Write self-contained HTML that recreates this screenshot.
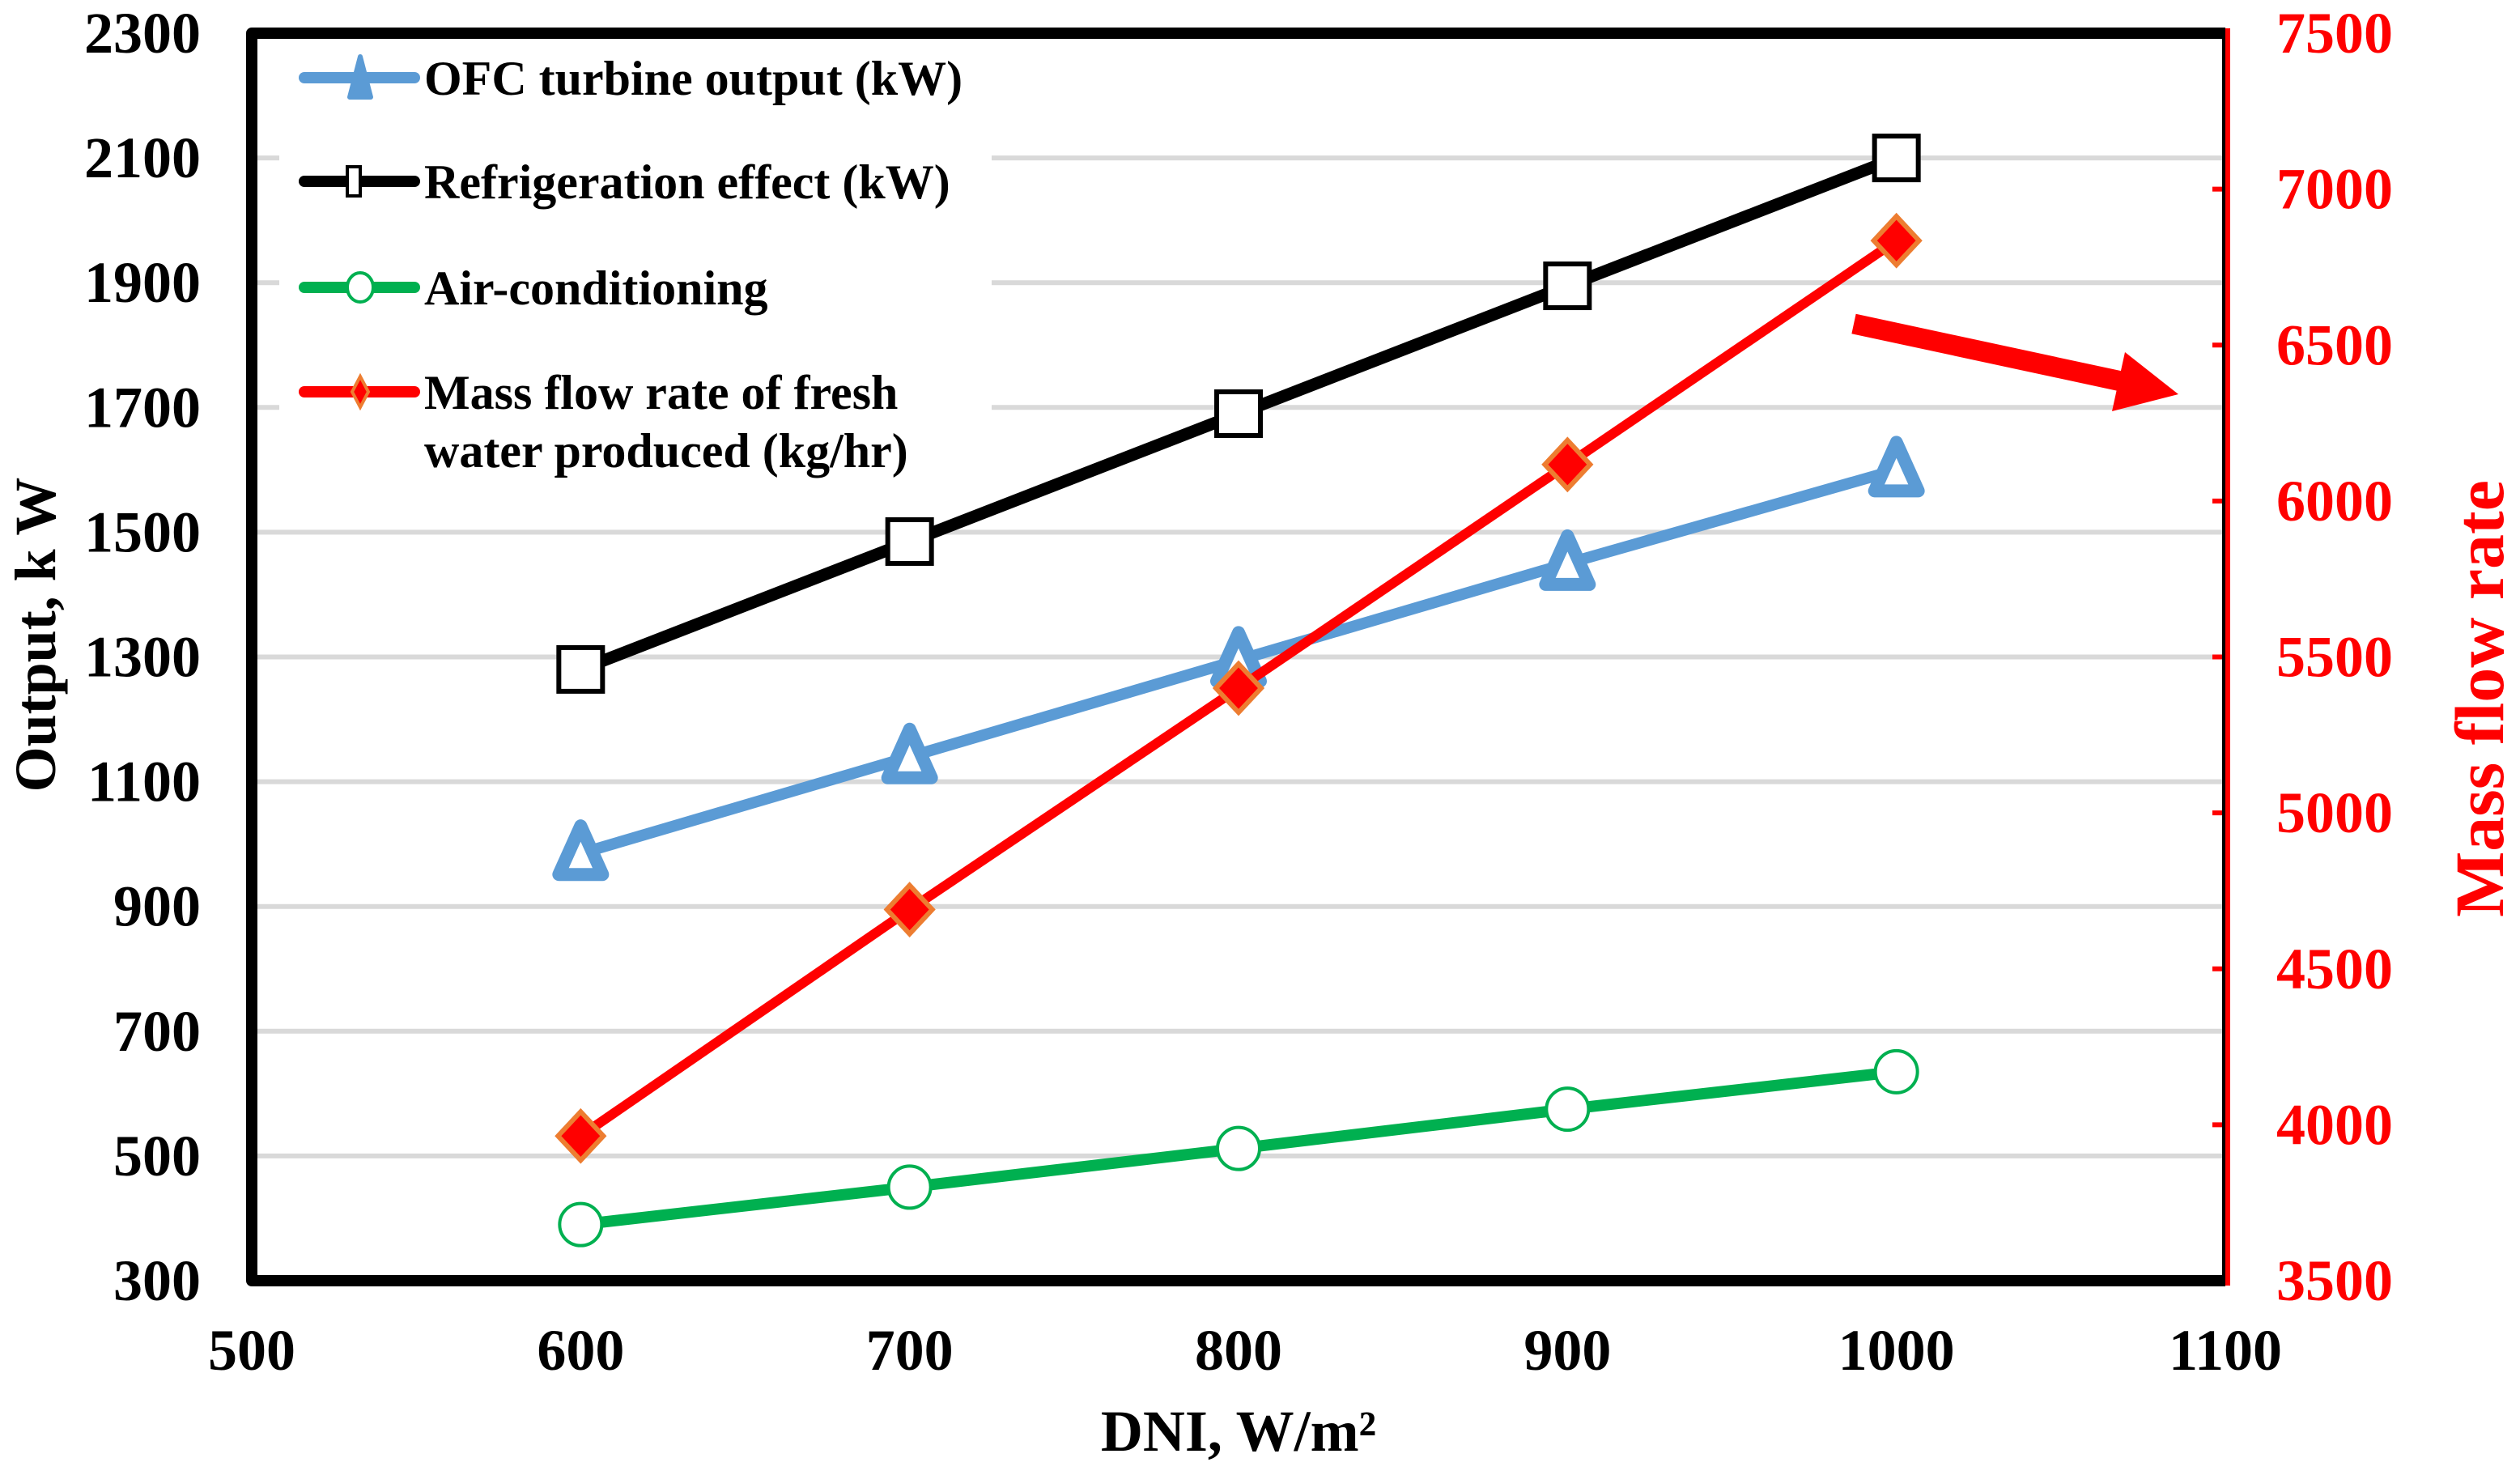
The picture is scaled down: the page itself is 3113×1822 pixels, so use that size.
<!DOCTYPE html>
<html><head><meta charset="utf-8"><style>
html,body{margin:0;padding:0;background:#fff}
svg{display:block}
text{font-family:"Liberation Serif",serif;font-weight:bold}
</style></head><body>
<svg id="chart" width="3113" height="1822" viewBox="0 0 3113 1822" xmlns="http://www.w3.org/2000/svg">
<g id="grid"></g>
<g id="series"></g>
<rect x="345" y="55" width="880" height="550" fill="#fff"/>
<g id="axes"></g>
<g id="legend"></g>
<g>
<line x1="2290" y1="400" x2="2625" y2="472" stroke="#ff0000" stroke-width="25"/>
<polygon points="2691,487 2609,508 2625,435" fill="#ff0000"/>
</g>
<text x="1530" y="1792" font-size="72" text-anchor="middle">DNI, W/m²</text>
<text x="0" y="0" font-size="72" text-anchor="middle" transform="translate(68,784) rotate(-90)">Output, k W</text>
<text x="0" y="0" font-size="86" fill="#ff0000" text-anchor="middle" transform="translate(3092,863) rotate(-90)">Mass flow rate</text>
</svg>
<script>
const xValues = [600, 700, 800, 900, 1000];
const ofcTurbine = [985, 1140, 1295, 1450, 1600];
const refrigeration = [1280, 1485, 1690, 1895, 2100];
const airConditioning = [390, 450, 512, 575, 635];
const massFlow = [3964, 4690, 5400, 6117, 6835];
const xTicks = [500, 600, 700, 800, 900, 1000, 1100];
const yLeftTicks = [300, 500, 700, 900, 1100, 1300, 1500, 1700, 1900, 2100, 2300];
const yRightTicks = [3500, 4000, 4500, 5000, 5500, 6000, 6500, 7000, 7500];

const NS = "http://www.w3.org/2000/svg";
const L = 311, R = 2749, T = 41, B = 1582;
const sx = v => L + (v - 500) / 600 * (R - L);
const syL = v => B - (v - 300) / 2000 * (B - T);
const syR = v => B - (v - 3500) / 4000 * (B - T);
function mk(tag, attrs, parent) {
  const e = document.createElementNS(NS, tag);
  for (const k in attrs) e.setAttribute(k, attrs[k]);
  parent.appendChild(e);
  return e;
}
const grid = document.getElementById('grid');
const axes = document.getElementById('axes');
const series = document.getElementById('series');
const legend = document.getElementById('legend');

yLeftTicks.forEach(v => {
  if (v !== 300 && v !== 2300) {
    const g = mk('line', {x1: L, x2: R, y1: syL(v), y2: syL(v), stroke: '#d9d9d9', 'stroke-width': 6}, grid);
    
    
  }
  const t = mk('text', {x: 248, y: syL(v) + 24, 'font-size': 72, 'text-anchor': 'end'}, axes);
  t.textContent = v;
  
  
});
yRightTicks.forEach(v => {
  const t = mk('text', {x: 2812, y: syR(v) + 24, 'font-size': 72, fill: '#ff0000'}, axes);
  t.textContent = v;
  
  
  const tk = mk('line', {x1: R - 16, x2: R, y1: syR(v), y2: syR(v), stroke: '#ff0000', 'stroke-width': 6}, axes);
  
  
});
xTicks.forEach(v => {
  const t = mk('text', {x: sx(v), y: 1692, 'font-size': 72, 'text-anchor': 'middle'}, axes);
  t.textContent = v;
  
  
});
const frame = mk('path', {d: `M${R},${T} L${L},${T} L${L},${B} L${R},${B}`, fill: 'none', stroke: '#000', 'stroke-width': 14, 'stroke-linejoin': 'round'}, axes);


const rb = mk('line', {x1: R - 2, x2: R - 2, y1: T - 6, y2: B + 6, stroke: '#000', 'stroke-width': 4}, axes);


const ra = mk('line', {x1: R + 3, x2: R + 3, y1: T - 6, y2: B + 6, stroke: '#ff0000', 'stroke-width': 6}, axes);



function marker(kind, cx, cy, parent) {
  let e;
  if (kind === 'tri') e = mk('polygon', {points: `${cx},${cy-34} ${cx-27},${cy+26} ${cx+27},${cy+26}`, fill: '#fff', stroke: '#5b9bd5', 'stroke-width': 16, 'stroke-linejoin': 'round'}, parent);
  if (kind === 'sq') e = mk('rect', {x: cx-27, y: cy-27, width: 54, height: 54, fill: '#fff', stroke: '#000', 'stroke-width': 6}, parent);
  if (kind === 'circ') e = mk('ellipse', {cx: cx, cy: cy, rx: 26, ry: 26, fill: '#fff', stroke: '#00b050', 'stroke-width': 4}, parent);
  if (kind === 'dia') e = mk('polygon', {points: `${cx},${cy-30} ${cx+28},${cy} ${cx},${cy+30} ${cx-28},${cy}`, fill: '#ff0000', stroke: '#ed7d31', 'stroke-width': 6}, parent);
  return e;
}
const defs = [
  {name: 'ofc-turbine', vals: ofcTurbine, ys: syL, color: '#5b9bd5', m: 'tri', w: 14},
  {name: 'refrigeration', vals: refrigeration, ys: syL, color: '#000', m: 'sq', w: 15},
  {name: 'air-conditioning', vals: airConditioning, ys: syL, color: '#00b050', m: 'circ', w: 14},
  {name: 'mass-flow', vals: massFlow, ys: syR, color: '#ff0000', m: 'dia', w: 12}
];
defs.forEach(d => {
  const pts = d.vals.map((v, i) => sx(xValues[i]) + ',' + d.ys(v)).join(' ');
  const pl = mk('polyline', {points: pts, fill: 'none', stroke: d.color, 'stroke-width': d.w}, series);
  
  
  d.vals.forEach((v, i) => {
    const m = marker(d.m, sx(xValues[i]), d.ys(v), series);
    
    
  });
});
const legendLabels = [['OFC turbine output (kW)'], ['Refrigeration effect (kW)'], ['Air-conditioning'], ['Mass flow rate of fresh', 'water produced (kg/hr)']];
const legendY = [96, 224, 355, 484];
defs.forEach((d, i) => {
  const y = legendY[i];
  const ln = mk('line', {x1: 376, x2: 512, y1: y, y2: y, stroke: d.color, 'stroke-width': 14, 'stroke-linecap': 'round'}, legend);
  
  
  const m = d.m === 'tri'
    ? mk('polygon', {points: `445,${y-26} 432,${y+24} 458,${y+24}`, fill: '#5b9bd5', stroke: '#5b9bd5', 'stroke-width': 6, 'stroke-linejoin': 'round'}, legend)
    : d.m === 'sq' ? mk('rect', {x: 429, y: y-18, width: 16, height: 36, fill: '#fff', stroke: '#000', 'stroke-width': 4}, legend)
    : d.m === 'circ' ? mk('ellipse', {cx: 445, cy: y, rx: 16, ry: 18, fill: '#fff', stroke: '#00b050', 'stroke-width': 4}, legend)
    : mk('polygon', {points: `445,${y-19} 455,${y} 445,${y+19} 435,${y}`, fill: '#ff0000', stroke: '#ed7d31', 'stroke-width': 4}, legend);
  
  
  legendLabels[i].forEach((s, j) => {
    const t = mk('text', {x: 524, y: y + 21 + j * 72, 'font-size': 60}, legend);
    t.textContent = s;
    
    
  });
});
</script>
</body></html>
